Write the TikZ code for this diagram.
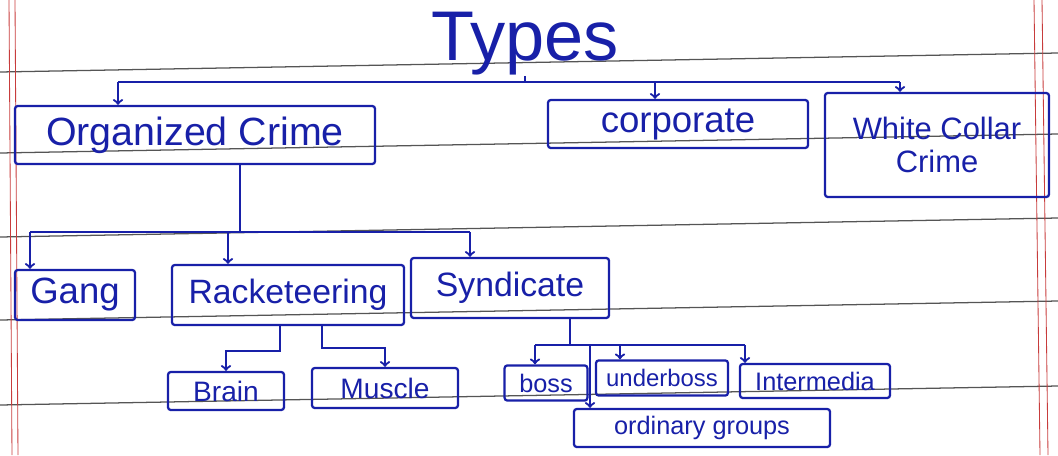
\documentclass[tikz,border=0pt]{standalone}
\usepackage{fontspec}
\setmainfont{Liberation Sans}
\usetikzlibrary{calc}
\definecolor{ink}{RGB}{24,32,168}
\definecolor{ruling}{RGB}{85,85,85}
\definecolor{margin}{RGB}{200,60,60}
\tikzset{
  inkbox/.style={draw=ink, line width=1.6pt, rounded corners=2pt, text=ink, inner sep=2pt},
  inkline/.style={draw=ink, line width=1.6pt},
  inkarrow/.style={draw=ink, line width=1.6pt, ->},
  rule/.style={draw=ruling, line width=0.9pt},
  marginline/.style={draw=margin, line width=0.6pt}
}
\def\crimebox(#1,#2,#3,#4,#5,#6,#7){
  \node[inkbox, minimum width=#4, minimum height=#5, font=\fontsize{#6}{#6}\selectfont, align=center] (#1) at (#2,#3) {#7};
}
\begin{document}
\begin{tikzpicture}[x=0.025cm, y=-0.025cm]
\useasboundingbox (0,0) rectangle (1058,455);
% notebook page
\foreach \yl in {72,153,237,320,405}
  \draw[rule] (0,\yl) -- (1058,\yl-19);
\draw[marginline] (9,0) -- (12,455);
\draw[marginline] (15,0) -- (18,455);
\draw[marginline] (1034,0) -- (1040,455);
\draw[marginline] (1042,0) -- (1048,455);
% title
\node[text=ink, font=\fontsize{50}{50}\selectfont, inner sep=0pt] (types) at (525,44) {Types};
% first level
\crimebox(organized,195,135,9cm,1.45cm,28,Organized Crime)
\crimebox(corporate,678,124,6.5cm,1.2cm,26,corporate)
\crimebox(whitecollar,937,145,5.6cm,2.6cm,22,White Collar\\[2pt]Crime)
\coordinate (tbus) at (0,82);
\draw[inkline] (types.south) -- (types.south |- tbus);
\draw[inkline] ($(organized.north |- tbus)+(-77,0)$) -- ($(whitecollar.north |- tbus)+(-37,0)$);
\draw[inkarrow] ($(organized.north |- tbus)+(-77,0)$) -- ($(organized.north)+(-77,0)$);
\draw[inkarrow] ($(corporate.north |- tbus)+(-23,0)$) -- ($(corporate.north)+(-23,0)$);
\draw[inkarrow] ($(whitecollar.north |- tbus)+(-37,0)$) -- ($(whitecollar.north)+(-37,0)$);
% second level
\crimebox(gang,75,295,3cm,1.25cm,26,Gang)
\crimebox(racket,288,295,5.8cm,1.5cm,24,Racketeering)
\crimebox(syndicate,510,288,4.95cm,1.5cm,24,Syndicate)
\coordinate (obus) at (0,232);
\draw[inkline] ($(organized.south)+(45,0)$) -- ($(organized.south |- obus)+(45,0)$);
\draw[inkline] ($(gang.north |- obus)+(-45,0)$) -- ($(syndicate.north |- obus)+(-40,0)$);
\draw[inkarrow] ($(gang.north |- obus)+(-45,0)$) -- ($(gang.north)+(-45,0)$);
\draw[inkarrow] ($(racket.north |- obus)+(-60,0)$) -- ($(racket.north)+(-60,0)$);
\draw[inkarrow] ($(syndicate.north |- obus)+(-40,0)$) -- ($(syndicate.north)+(-40,0)$);
% racketeering
\crimebox(brain,226,391,2.9cm,0.95cm,20,Brain)
\crimebox(muscle,385,388,3.65cm,1cm,20,Muscle)
\draw[inkarrow] ($(racket.south)+(-8,0)$) -- ++(0,25) -| (brain.north);
\draw[inkarrow] ($(racket.south)+(34,0)$) -- ++(0,22) -| (muscle.north);
% syndicate
\crimebox(boss,546,383,2.07cm,0.88cm,18,boss)
\crimebox(underboss,662,378,3.3cm,0.88cm,17,underboss)
\crimebox(intermedia,815,381,3.75cm,0.85cm,18,Intermedia)
\crimebox(ordinary,702,428,6.4cm,0.95cm,18,ordinary groups)
\coordinate (sbus) at (0,345);
\draw[inkline] ($(syndicate.south)+(60,0)$) -- ($(syndicate.south |- sbus)+(60,0)$);
\draw[inkline] ($(boss.north |- sbus)+(-11,0)$) -- ($(intermedia.north |- sbus)+(-70,0)$);
\draw[inkarrow] ($(boss.north |- sbus)+(-11,0)$) -- ($(boss.north)+(-11,0)$);
\draw[inkarrow] ($(underboss.north |- sbus)+(-42,0)$) -- ($(underboss.north)+(-42,0)$);
\draw[inkarrow] ($(intermedia.north |- sbus)+(-70,0)$) -- ($(intermedia.north)+(-70,0)$);
\draw[inkarrow] ($(ordinary.north |- sbus)+(-112,0)$) -- ($(ordinary.north)+(-112,0)$);
\end{tikzpicture}
\end{document}
